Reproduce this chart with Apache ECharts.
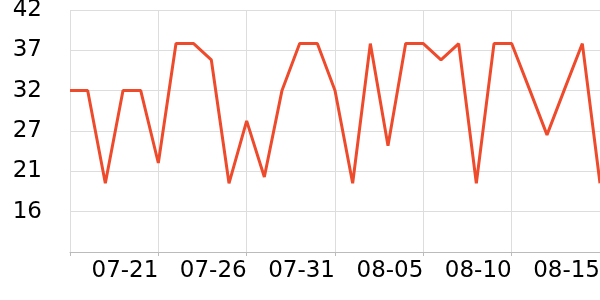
<!DOCTYPE html>
<html><head><meta charset="utf-8">
<script src="https://cdn.jsdelivr.net/npm/echarts@6/dist/echarts.min.js"></script>
<style>html,body{margin:0;padding:0;background:#fff}#c{width:600px;height:300px}</style>
</head><body><div id="c"></div>
<script>
const categories = ['07-16','07-17','07-18','07-19','07-20','07-21','07-22','07-23','07-24','07-25','07-26','07-27','07-28','07-29','07-30','07-31','08-01','08-02','08-03','08-04','08-05','08-06','08-07','08-08','08-09','08-10','08-11','08-12','08-13','08-14','08-15'];
const values = [31.7,31.7,19.8,31.7,31.7,22.4,37.7,37.7,35.6,19.8,27.8,20.6,31.7,37.7,37.7,31.7,19.8,37.7,24.6,37.7,37.7,35.6,37.7,19.8,37.7,37.7,31.9,26.0,31.9,37.7,19.8];
const yMin = 11, yMax = 42;

const chart = echarts.init(document.getElementById('c'));
chart.setOption({
  animation: false,
  grid: {left: 70, right: 0, top: 10, bottom: 48, containLabel: false, outerBoundsMode: 'none'},
  xAxis: {
    type: 'category', data: categories, boundaryGap: false,
    axisLine: {lineStyle: {color: '#bbb', width: 1}},
    axisTick: {interval: 4, length: 4, lineStyle: {color: '#bbb'}},
    splitLine: {show: true, interval: 4, lineStyle: {color: '#ddd'}},
    axisLabel: {
      interval: (i) => i % 5 === 0 && i > 0,
      align: 'right', margin: 8,
      fontFamily: 'DejaVu Sans', fontSize: 23, color: '#000'
    }
  },
  yAxis: {
    type: 'value', min: yMin, max: yMax, interval: (yMax - yMin) / 6,
    axisLine: {show: false}, axisTick: {show: false},
    splitLine: {lineStyle: {color: '#ddd'}},
    axisLabel: {
      showMinLabel: false, margin: 28,
      formatter: (v) => String(Math.round(v + 1e-6)),
      fontFamily: 'DejaVu Sans', fontSize: 23, color: '#000'
    }
  },
  series: [{
    type: 'line', data: values, showSymbol: false,
    lineStyle: {color: '#ee4a2c', width: 3}, itemStyle: {color: '#ee4a2c'}
  }]
});
</script></body></html>
